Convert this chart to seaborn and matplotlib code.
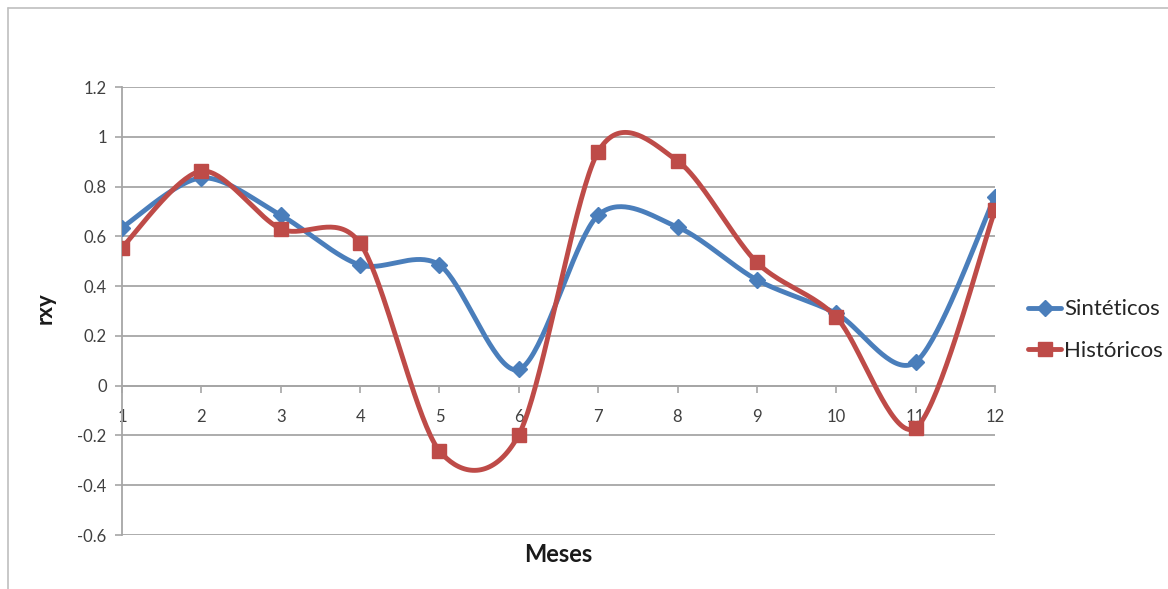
import numpy as np
import pandas as pd
import matplotlib
matplotlib.use("Agg")
import matplotlib.pyplot as plt
from matplotlib.lines import Line2D
import seaborn as sns

months = [1, 2, 3, 4, 5, 6, 7, 8, 9, 10, 11, 12]
sinteticos = [0.635, 0.835, 0.685, 0.485, 0.485, 0.065, 0.685, 0.637, 0.425, 0.29, 0.095, 0.76]
historicos = [0.555, 0.862, 0.630, 0.572, -0.262, -0.197, 0.940, 0.903, 0.495, 0.275, -0.170, 0.705]
yticks = [-0.6, -0.4, -0.2, 0, 0.2, 0.4, 0.6, 0.8, 1, 1.2]
ytick_labels = ["-0.6", "-0.4", "-0.2", "0", "0.2", "0.4", "0.6", "0.8", "1", "1.2"]
series_names = ["Sintéticos", "Históricos"]

BLUE = "#4A7EBB"
RED = "#BE4B48"
GRID = "#A6A6A6"

sns.set_theme(style="white")
plt.rcParams["font.family"] = ["Lato", "DejaVu Sans"]


def smooth(xs, ys, n=40, k=0.148):
    """Excel-like smoothed line: cardinal cubic Bezier through the points."""
    P = np.column_stack([xs, ys]).astype(float)
    out = []
    m = len(P)
    for i in range(m - 1):
        p0 = P[i - 1] if i > 0 else P[i]
        p1 = P[i]
        p2 = P[i + 1]
        p3 = P[i + 2] if i + 2 < m else P[i + 1]
        c1 = p1 + (p2 - p0) * k
        c2 = p2 - (p3 - p1) * k
        t = np.linspace(0, 1, n, endpoint=(i == m - 2))[:, None]
        seg = ((1 - t) ** 3) * p1 + 3 * ((1 - t) ** 2) * t * c1 + 3 * (1 - t) * t ** 2 * c2 + t ** 3 * p2
        out.append(seg)
    arr = np.vstack(out)
    return arr[:, 0], arr[:, 1]


fig = plt.figure(figsize=(11.68, 5.89), dpi=100)
ax = fig.add_axes([122 / 1168, 1 - 535 / 589, (995 - 122) / 1168, (535 - 87) / 589])

# outer chart border (top and left visible)
fig.add_artist(Line2D([8 / 1168, 1.0], [1 - 8 / 589, 1 - 8 / 589], transform=fig.transFigure,
                      color="#BFBFBF", lw=1.2))
fig.add_artist(Line2D([8 / 1168, 8 / 1168], [0, 1 - 8 / 589], transform=fig.transFigure,
                      color="#BFBFBF", lw=1.2))

for yv in yticks:
    ax.axhline(yv, color=GRID, lw=1.3, zorder=0)

for vals, color, name in [(sinteticos, BLUE, series_names[0]), (historicos, RED, series_names[1])]:
    sx, sy = smooth(months, vals)
    df = pd.DataFrame({"x": sx, "y": sy})
    sns.lineplot(data=df, x="x", y="y", sort=False, estimator=None, ax=ax, color=color, lw=3.5,
                 zorder=3)

ax.plot(months, sinteticos, linestyle="none", marker="D", markersize=8.5, color=BLUE, zorder=4)
ax.plot(months, historicos, linestyle="none", marker="s", markersize=10.5, color=RED, zorder=5)

ax.set_xlim(1, 12)
ax.set_ylim(-0.6, 1.2)
ax.set_yticks(yticks)
ax.set_yticklabels(ytick_labels)
ax.set_xticks(months)
ax.set_xticklabels([str(m) for m in months])

for s in ["top", "right"]:
    ax.spines[s].set_visible(False)
ax.spines["left"].set_color(GRID)
ax.spines["left"].set_linewidth(1.3)
ax.spines["bottom"].set_position(("data", 0))
ax.spines["bottom"].set_color(GRID)
ax.spines["bottom"].set_linewidth(1.3)

ax.tick_params(axis="y", direction="out", length=5, width=1.2, color=GRID, pad=6,
               labelsize=12, labelcolor="#404040", left=True)
ax.tick_params(axis="x", direction="out", length=5, width=1.2, color=GRID, pad=12,
               labelsize=12, labelcolor="#404040", bottom=True)

ax.set_xlabel("")
ax.set_ylabel("")
fig.text(45 / 1168, 1 - 308 / 589, "rxy", rotation=90, ha="center", va="center",
         fontsize=16, fontweight="bold", color="#1a1a1a")
fig.text(558 / 1168, 1 - 555 / 589, "Meses", ha="center", va="center",
         fontsize=17, fontweight="bold", color="#1a1a1a")

handles = [Line2D([], [], color=BLUE, lw=3.5, marker="D", markersize=8.5),
           Line2D([], [], color=RED, lw=3.5, marker="s", markersize=10.5)]
fig.legend(handles, series_names, loc="center left", bbox_to_anchor=(1028 / 1168, 1 - 330 / 589),
           frameon=False, fontsize=16, handlelength=1.5, handletextpad=0.12, labelspacing=0.95,
           borderpad=0, borderaxespad=0)

fig.savefig("out.png", dpi=100, facecolor="white")
